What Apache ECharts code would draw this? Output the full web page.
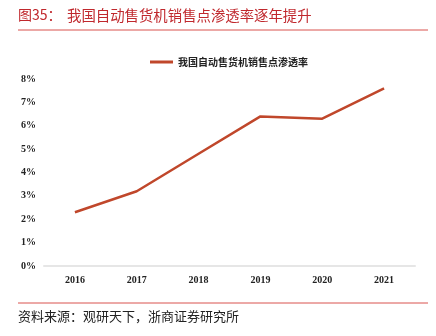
<!DOCTYPE html>
<html><head><meta charset="utf-8">
<script src="https://cdn.jsdelivr.net/npm/echarts@6/dist/echarts.min.js"></script>
<style>html,body{margin:0;padding:0;background:#fff}#c{width:436px;height:336px}</style>
</head><body><div id="c"></div>
<script>
const categories = ['2016','2017','2018','2019','2020','2021'];
const seriesName = '我国自动售货机销售点渗透率';
const values = [2.3, 3.2, 4.8, 6.4, 6.3, 7.6];
const titleLabel = '图35：';
const titleText = '我国自动售货机销售点渗透率逐年提升';
const sourceText = '资料来源：观研天下，浙商证券研究所';

const chart = echarts.init(document.getElementById('c'));
chart.setOption({
  animation: false,
  backgroundColor: '#fff',
  graphic: [
    {type:'text', left:18, top:8, style:{text:titleLabel, fill:'#C0282D', font:'14px "Noto Sans CJK SC"'}},
    {type:'text', left:67, top:8, style:{text:titleText, fill:'#C0282D', font:'14.4px "Noto Sans CJK SC"'}},
    {type:'line', shape:{x1:18,y1:30,x2:428,y2:30}, style:{stroke:'#D9534F', lineWidth:1}},
    {type:'line', shape:{x1:18,y1:303,x2:428,y2:303}, style:{stroke:'#D9534F', lineWidth:1}},
    {type:'text', left:18, top:310, style:{text:sourceText, fill:'#222', font:'13px "Noto Sans CJK SC"'}}
  ],
  legend: {
    top: 52, left: 145,
    itemWidth: 23, itemHeight: 3,
    icon: 'rect',
    textStyle: {fontSize: 10, fontWeight: 'bold', color: '#222', fontFamily: '"Noto Sans CJK SC"'},
    data: [seriesName]
  },
  grid: {left: 44, right: 21, top: 79, bottom: 70, containLabel: false},
  xAxis: {
    type: 'category', data: categories, boundaryGap: true,
    axisLine: {lineStyle: {color: '#e6e6e6', width: 2}},
    axisTick: {show: false},
    axisLabel: {color: '#222', fontSize: 10, fontWeight: 'bold', fontFamily: '"Liberation Serif"', margin: 9}
  },
  yAxis: {
    type: 'value', min: 0, max: 8, interval: 1,
    axisLine: {show: false}, axisTick: {show: false},
    splitLine: {show: false},
    axisLabel: {formatter: '{value}%', color: '#222', fontSize: 10, fontWeight: 'bold', fontFamily: '"Liberation Serif"', margin: 8}
  },
  series: [{
    name: seriesName, type: 'line', data: values,
    symbol: 'none', lineStyle: {color: '#C0472B', width: 2.5},
    itemStyle: {color: '#C0472B'}
  }]
});
</script></body></html>
